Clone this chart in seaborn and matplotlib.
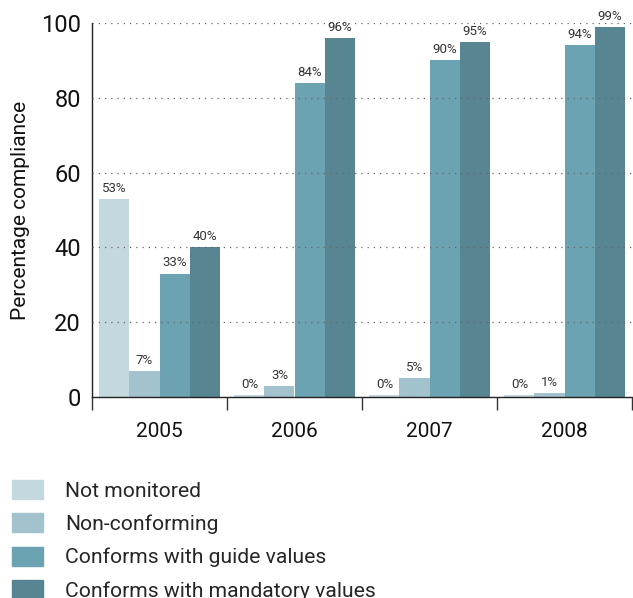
import numpy as np
import pandas as pd
import matplotlib
matplotlib.use('Agg')
import matplotlib.pyplot as plt
from matplotlib.ticker import FixedLocator, NullFormatter
import seaborn as sns

# valores
years = ['2005', '2006', '2007', '2008']
categories = ['Not monitored', 'Non-conforming',
              'Conforms with guide values', 'Conforms with mandatory values']
not_monitored = [53, 0, 0, 0]
non_conforming = [7, 3, 5, 1]
guide_values = [33, 84, 90, 94]
mandatory_values = [40, 96, 95, 99]
colors = ['#c4d8df', '#a2c2ce', '#6ba3b3', '#578692']

series = [not_monitored, non_conforming, guide_values, mandatory_values]
df = pd.DataFrame({
    'year': years * len(categories),
    'category': np.repeat(categories, len(years)),
    'value': np.concatenate(series),
})

sns.set_style('white')
plt.rcParams['font.family'] = ['Roboto', 'DejaVu Sans']

fig = plt.figure(figsize=(6.33, 5.98), dpi=100)
ax = fig.add_axes([92 / 633, 1 - 397 / 598, 540 / 633, 374 / 598])

sns.barplot(data=df, x='year', y='value', hue='category', hue_order=categories,
            order=years, palette=colors, width=0.89, saturation=1, ax=ax,
            legend=False, errorbar=None, linewidth=0, edgecolor='none')

# las barras a 0 se ven como una franja fina en el original
for bars, vals in zip(ax.containers, series):
    for patch, v in zip(bars, vals):
        if v == 0:
            patch.set_height(0.6)
    ax.bar_label(bars, labels=[f'{v}%' for v in vals], padding=3,
                 fontsize=9.5, color='#333333', clip_on=False)

ax.set_xlim(-0.5, 3.5)
ax.set_ylim(0, 100)
ax.set_yticks([0, 20, 40, 60, 80, 100])
ax.tick_params(axis='y', length=0, labelsize=17, pad=8, colors='#111111')
ax.tick_params(axis='x', which='major', length=0, labelsize=15, pad=18, colors='#111111')
ax.xaxis.set_minor_locator(FixedLocator([-0.5, 0.5, 1.5, 2.5, 3.5]))
ax.xaxis.set_minor_formatter(NullFormatter())
ax.tick_params(axis='x', which='minor', bottom=True, length=9, width=1,
               color='#333333', direction='out')

ax.grid(axis='y', linestyle=(0, (1, 4)), color='#666666', linewidth=0.9)
ax.grid(axis='x', visible=False)
ax.set_axisbelow(False)
for side in ['top', 'right']:
    ax.spines[side].set_visible(False)
for side in ['left', 'bottom']:
    ax.spines[side].set_color('#222222')
    ax.spines[side].set_linewidth(1)

ax.set_xlabel('')
ax.set_ylabel('Percentage compliance', fontsize=15, labelpad=8, color='#111111')

handles = [plt.Rectangle((0, 0), 1, 1, color=c) for c in colors]
fig.legend(handles, categories, loc='upper left',
           bbox_to_anchor=(12 / 633, 1 - 480 / 598), frameon=False,
           fontsize=15.2, handlelength=1.45, handleheight=1.0,
           handletextpad=1.05, labelspacing=0.6, borderpad=0, borderaxespad=0)

fig.savefig('out.png', dpi=100)
plt.close(fig)
